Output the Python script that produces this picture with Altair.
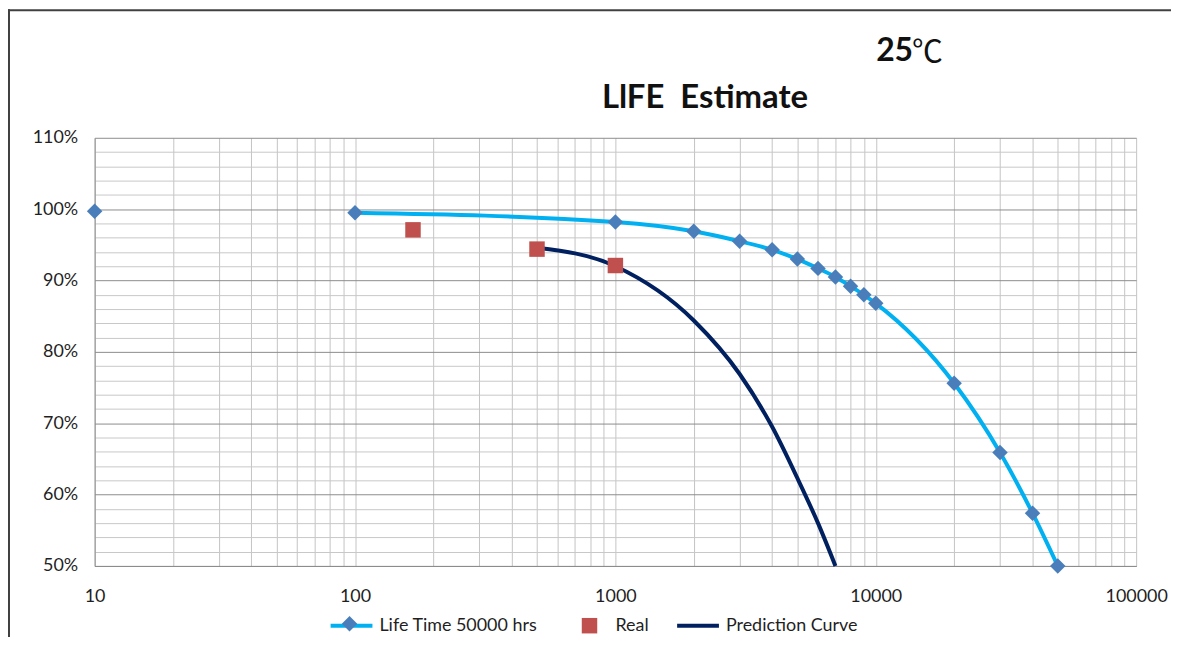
import altair as alt
import pandas as pd

# ---- data ----
series_names = ["Life Time 50000 hrs", "Real", "Prediction Curve"]

life_hours = [10, 100, 1000, 2000, 3000, 4000, 5000, 6000, 7000, 8000, 9000,
              10000, 20000, 30000, 40000, 50000]
life_pct = [99.7, 99.5, 98.2, 96.9, 95.5, 94.3, 93.0, 91.7, 90.5, 89.2, 88.0,
            86.8, 75.6, 65.9, 57.4, 50.0]

real_hours = [167, 500, 1000]
real_pct = [97.1, 94.4, 92.1]

pred_hours = [500, 1000, 2000, 3000, 4000, 5000, 6000, 7000]
pred_pct = [94.6, 92.0, 84.4, 76.9, 69.5, 62.3, 56.0, 50.0]

x_tick_values = [10, 20, 30, 40, 50, 60, 70, 80, 90,
                 100, 200, 300, 400, 500, 600, 700, 800, 900,
                 1000, 2000, 3000, 4000, 5000, 6000, 7000, 8000, 9000,
                 10000, 20000, 30000, 40000, 50000, 60000, 70000, 80000, 90000,
                 100000]
y_tick_values = [0.50, 0.52, 0.54, 0.56, 0.58, 0.60, 0.62, 0.64, 0.66, 0.68,
                 0.70, 0.72, 0.74, 0.76, 0.78, 0.80, 0.82, 0.84, 0.86, 0.88,
                 0.90, 0.92, 0.94, 0.96, 0.98, 1.00, 1.02, 1.04, 1.06, 1.08, 1.10]

title_text = "LlFE\u00a0\u00a0Estimate"
temp_num = "25"
temp_unit = "\u2103"

# ---- tables ----
def table(name, hours, pct):
    return pd.DataFrame({"series": name, "hours": hours, "pct": [v / 100 for v in pct]})

life_line_df = table(series_names[0], life_hours[1:], life_pct[1:])
pred_line_df = table(series_names[2], pred_hours, pred_pct)
life_pts_df = table(series_names[0], life_hours, life_pct)
real_pts_df = table(series_names[1], real_hours, real_pct)

FONT = "Lato"
LBL = "#1f1f1f"
FS = 18

diamond = "M0,-0.37L0.37,0L0,0.37L-0.37,0Z"
square = "M-0.37,-0.37L0.37,-0.37L0.37,0.37L-0.37,0.37Z"
line_sym = "M-1,0L1,0"
SYM = 1764
LEG_Y = 467

x_enc = alt.X(
    "hours:Q",
    scale=alt.Scale(type="log", domain=[10, 100000], nice=False),
    axis=alt.Axis(
        title=None, values=x_tick_values, tickCount=200, ticks=False, grid=True,
        gridColor="#C4C4C4", gridWidth=1,
        domainColor="#8C8C8C", domainWidth=1,
        labelExpr="indexof([10,100,1000,10000,100000], datum.value) >= 0 ? datum.value : ''",
        labelFlush=False, labelOverlap=False, labelFont=FONT, labelFontSize=FS,
        labelColor=LBL, labelPadding=22,
    ),
)
y_enc = alt.Y(
    "pct:Q",
    scale=alt.Scale(domain=[0.5, 1.1], nice=False, zero=False),
    axis=alt.Axis(
        title=None, values=y_tick_values, tickCount=200, ticks=False, grid=True,
        gridColor={"condition": {"test": "abs(datum.value*10 - round(datum.value*10)) < 0.001",
                                 "value": "#8C8C8C"}, "value": "#C8C8C8"},
        domainColor="#8C8C8C", domainWidth=1,
        labelExpr="abs(datum.value*10 - round(datum.value*10)) < 0.001 ? format(datum.value, '.0%') : ''",
        labelFlush=False, labelOverlap=False, labelFont=FONT, labelFontSize=FS,
        labelColor=LBL, labelPadding=17,
    ),
)


def legend(x, sym, show_label=True, stroke_w=0, y=LEG_Y):
    kw = dict(
        title=None, orient="none", legendX=x, legendY=y, direction="horizontal",
        symbolType=sym, symbolSize=SYM, symbolStrokeWidth=stroke_w, symbolOpacity=1,
        labelFont=FONT, labelFontSize=FS, labelColor=LBL, labelOffset=5,
    )
    if not show_label:
        kw["labelExpr"] = "''"
    return alt.Legend(**kw)


def color(name, col, leg):
    return alt.Color("series:N", scale=alt.Scale(domain=[name], range=[col]), legend=leg)


life_line = alt.Chart(life_line_df).mark_line(interpolate="monotone", strokeWidth=4).encode(
    x=x_enc, y=y_enc,
    color=color(series_names[0], "#00B0F0", legend(235, line_sym, True, 4)),
)
pred_line = alt.Chart(pred_line_df).mark_line(interpolate="monotone", strokeWidth=4).encode(
    x="hours:Q", y="pct:Q",
    color=color(series_names[2], "#002060", legend(583, line_sym, True, 4)),
)
life_pts = alt.Chart(life_pts_df).mark_point(
    filled=True, shape=diamond, size=SYM, opacity=1, strokeWidth=0
).encode(
    x="hours:Q", y="pct:Q",
    color=color(series_names[0], "#4A7EBB", legend(235, diamond, False)),
)
real_pts = alt.Chart(real_pts_df).mark_point(
    filled=True, shape=square, size=SYM, opacity=1, strokeWidth=0
).encode(
    x="hours:Q", y="pct:Q",
    color=color(series_names[1], "#C0504D", legend(476, square, True, 0, LEG_Y + 2)),
)

title = alt.Chart(pd.DataFrame({"t": [title_text]})).mark_text(
    font=FONT, fontSize=33, fontWeight="bold", color="#111111", align="center", baseline="alphabetic"
).encode(text="t:N", x=alt.value(613), y=alt.value(-30))

temp1 = alt.Chart(pd.DataFrame({"t": [temp_num]})).mark_text(
    font=FONT, fontSize=32, fontWeight="bold", color="#111111", align="right", baseline="alphabetic"
).encode(text="t:N", x=alt.value(822), y=alt.value(-77))

temp2 = alt.Chart(pd.DataFrame({"t": [temp_unit]})).mark_text(
    font="Noto Sans CJK SC", fontSize=31, fontWeight="normal", color="#111111", align="left",
    baseline="alphabetic"
).encode(text="t:N", x=alt.value(821), y=alt.value(-76))

frame_top = alt.Chart(pd.DataFrame({"k": [0]})).mark_rule(color="#404040", strokeWidth=2).encode(
    x=alt.value(-87), x2=alt.value(1090), y=alt.value(-128)
)
frame_left = alt.Chart(pd.DataFrame({"k": [0]})).mark_rule(color="#404040", strokeWidth=2).encode(
    x=alt.value(-86), y=alt.value(-129), y2=alt.value(520)
)

chart = alt.layer(
    life_line, pred_line, life_pts, real_pts, title, temp1, temp2, frame_top, frame_left
).resolve_scale(color="independent").properties(
    width=1046, height=430,
    autosize=alt.AutoSizeParams(type="none"),
    padding={"left": 87, "top": 129, "right": 35, "bottom": 70},
    background="white",
).configure_view(stroke=None)

chart.save("out.html", embed_options={"renderer": "svg", "actions": False})
